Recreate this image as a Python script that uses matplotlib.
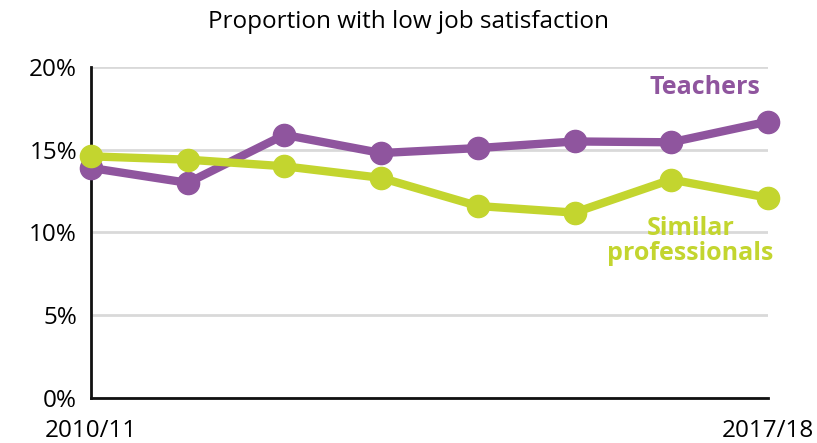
import matplotlib
matplotlib.use("Agg")
import matplotlib.pyplot as plt

years = ["2010/11", "2011/12", "2012/13", "2013/14", "2014/15", "2015/16", "2016/17", "2017/18"]
teachers = [13.9, 13.0, 15.9, 14.8, 15.1, 15.5, 15.45, 16.7]
similar = [14.6, 14.4, 14.0, 13.3, 11.6, 11.2, 13.2, 12.1]
yticks = [0, 5, 10, 15, 20]

purple = "#8F559E"
green = "#C3D52F"

plt.rcParams['font.family'] = ['Open Sans', 'DejaVu Sans']

fig = plt.figure(figsize=(8.17, 4.43), dpi=100)
ax = fig.add_axes([0.1114, 0.1016, 0.940 - 0.1114, 0.8488 - 0.1016])

x = list(range(len(years)))
ax.plot(x, teachers, color=purple, lw=6, marker='o', ms=16, clip_on=False, zorder=3)
ax.plot(x, similar, color=green, lw=6, marker='o', ms=16, clip_on=False, zorder=4)

ax.set_xlim(0, len(years) - 1)
ax.set_ylim(0, 20)
ax.set_yticks(yticks)
ax.set_yticklabels([f"{v}%" for v in yticks], fontsize=17.5)
ax.set_xticks([0, len(years) - 1])
ax.set_xticklabels([years[0], years[-1]], fontsize=17.5)
ax.tick_params(length=0, pad=10)
ax.tick_params(axis='x', pad=15)
ax.yaxis.grid(True, color="#D9D9D9", lw=2)
ax.set_axisbelow(True)
for s in ['top', 'right']:
    ax.spines[s].set_visible(False)
for s in ['left', 'bottom']:
    ax.spines[s].set_linewidth(2)
    ax.spines[s].set_color('#111111')

fig.text(0.5, 0.95, "Proportion with low job satisfaction", ha='center', va='center', fontsize=17.5)
ax.text(6.35, 18.75, "Teachers", color=purple, fontsize=18, fontweight='bold', ha='center', va='center')
ax.text(6.2, 9.5, "Similar\nprofessionals", color=green, fontsize=18, fontweight='bold', ha='center', va='center', linespacing=1.0)

fig.savefig("out.png", dpi=100)
